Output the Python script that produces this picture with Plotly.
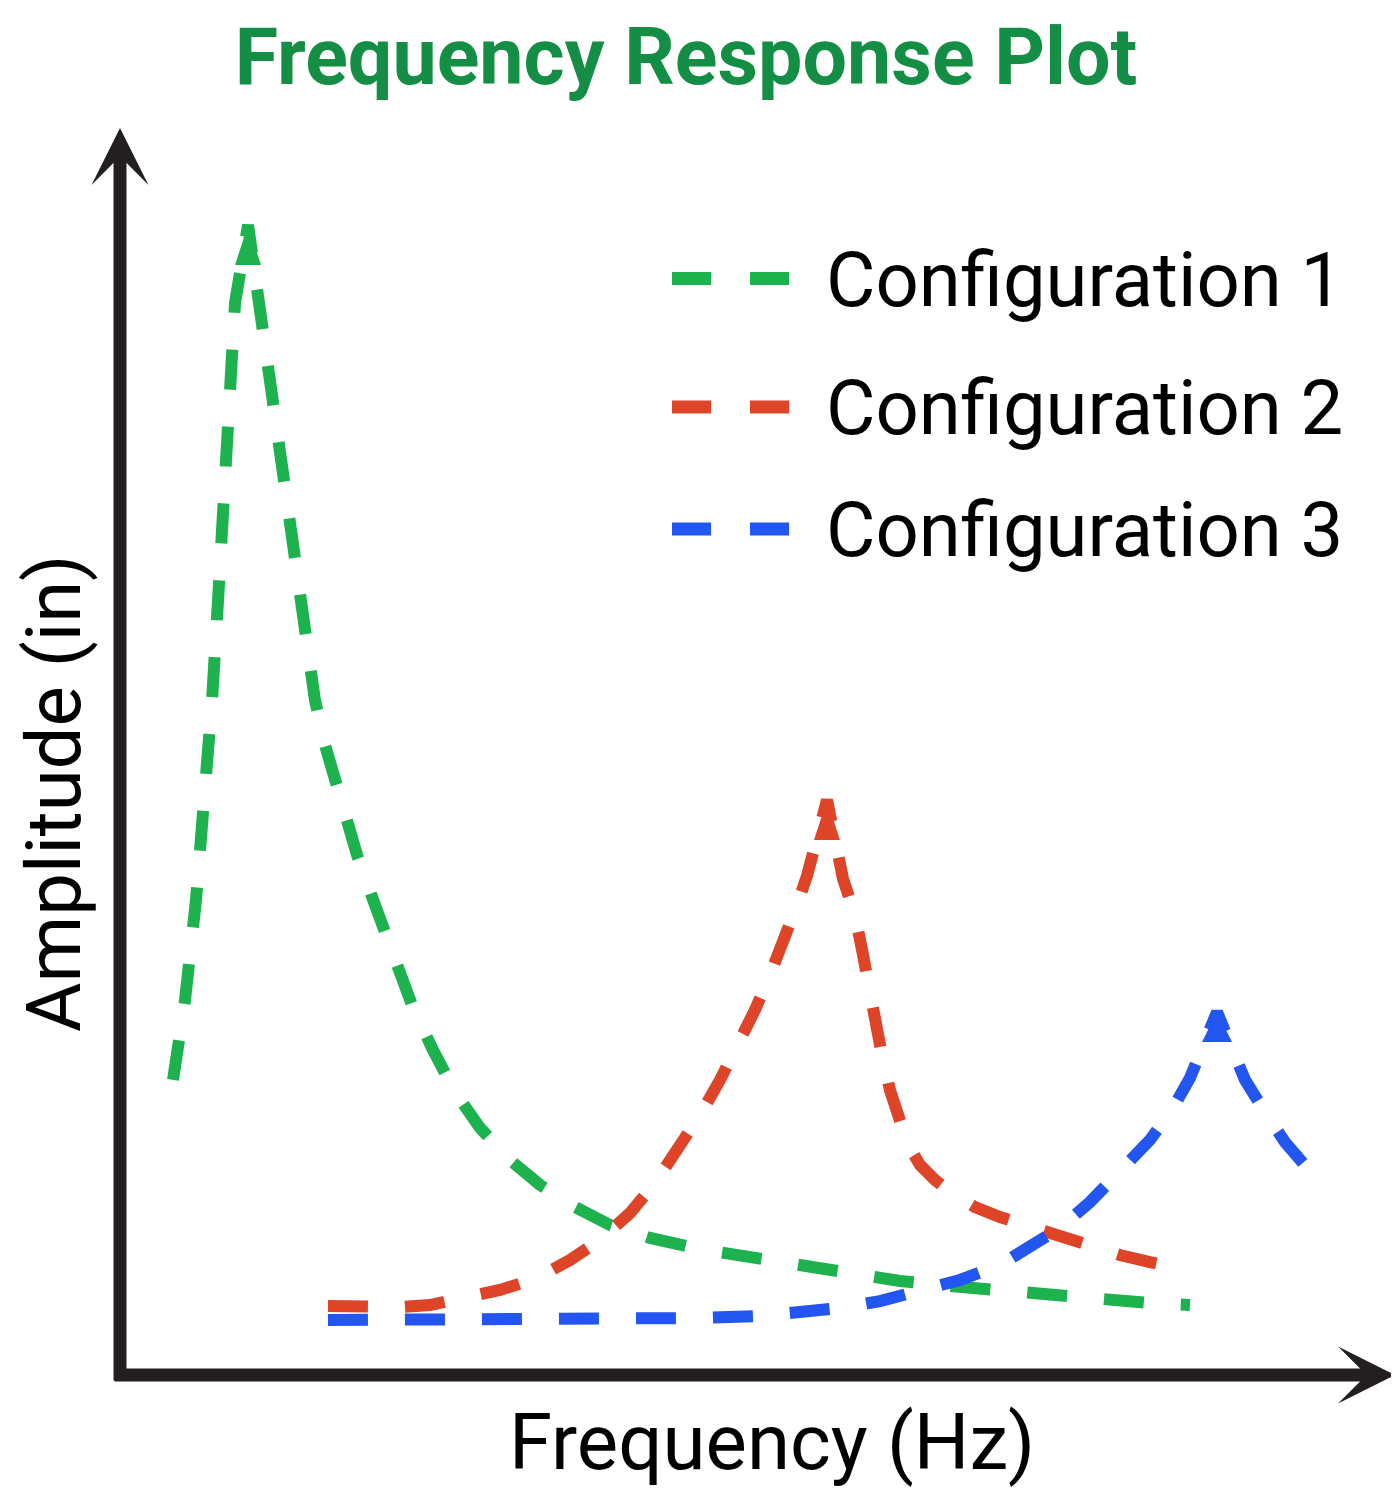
import plotly.graph_objects as go

# ---------------- data (arbitrary frequency / amplitude units) ----------------
series_names = ["Configuration 1", "Configuration 2", "Configuration 3"]

freq_1 = [4.16, 5.10, 5.96, 6.67, 7.22, 7.69, 8.08, 8.47, 8.71, 9.02, 10.04,
          10.90, 11.45, 11.84, 12.39, 12.94, 13.49, 14.12, 14.67, 15.29, 16.08,
          17.25, 18.59, 20.00, 21.41, 22.90, 24.47, 26.27, 28.24, 30.59, 32.94,
          35.69, 38.43, 41.57, 45.49, 49.41, 53.33, 57.25, 61.18, 65.10, 69.02,
          72.94, 76.86, 80.78, 83.92]
amp_1 = [23.66, 30.07, 38.09, 46.11, 54.13, 62.15, 70.17, 78.19, 83.00, 85.97, 92.22,
         85.89, 82.84, 79.79, 75.78, 71.77, 67.76, 62.15, 58.14, 54.13, 50.52,
         46.11, 41.70, 37.69, 33.68, 29.67, 26.22, 22.69, 19.81, 17.24, 15.24,
         13.47, 12.03, 10.99, 10.10, 9.46, 8.74, 8.10, 7.54, 7.14, 6.74,
         6.34, 6.01, 5.77, 5.61]

freq_2 = [16.31, 18.82, 21.96, 24.31, 27.45, 29.80, 32.55, 35.29, 37.65, 40.00,
          41.96, 43.92, 45.49, 47.06, 48.24, 49.80, 50.98, 52.16, 53.10, 53.88,
          55.45, 56.71, 57.65, 58.20, 58.67, 59.22, 59.76, 60.39, 61.02, 61.80,
          62.75, 63.92, 65.49, 67.06, 69.02, 71.37, 73.73, 76.08, 78.43, 80.78, 83.92]
amp_2 = [5.53, 5.45, 5.45, 5.61, 6.17, 6.82, 7.70, 9.22, 10.83, 12.99,
         15.40, 18.20, 20.85, 23.66, 25.90, 29.27, 32.08, 34.88, 37.69, 40.02,
         46.11, 39.78, 36.89, 34.08, 31.28, 28.47, 25.66, 22.85, 20.61, 18.44,
         16.84, 15.64, 14.43, 13.47, 12.67, 11.87, 11.07, 10.34, 9.62, 9.06, 8.42]

freq_3 = [16.31, 21.96, 29.80, 37.65, 45.49, 50.20, 53.33, 56.47, 59.61, 62.75,
          65.88, 69.02, 71.37, 73.73, 76.08, 78.43, 80.78, 82.59, 83.92, 86.04,
          88.24, 89.80, 91.37, 92.78]
amp_3 = [4.41, 4.41, 4.41, 4.41, 4.57, 4.73, 4.97, 5.37, 5.93, 6.66,
         7.62, 8.82, 10.18, 11.79, 13.87, 16.28, 18.85, 21.41, 23.82, 29.11,
         23.66, 21.09, 18.68, 17.00]

colors = ["#1DB24D", "#DD4428", "#2356F0"]
peak_symbols = ["arrow", "arrow", "arrow-up"]
peak_sizes = [42, 42, 30]

title_text = "Frequency Response Plot"
x_label = "Frequency (Hz)"
y_label = "Amplitude (in)"

FONT = "Roboto, 'Open Sans', 'DejaVu Sans', sans-serif"
AXIS_COLOR = "#231F20"

# page has an 8px body margin: lay the figure out in page coords shifted by OFF
OFF = 8
W, H = 1399 - OFF, 1489 - OFF
L = 120 - OFF
T = 128 - OFF
R = W - (1395 - OFF)
B = H - (1375 - OFF)
pw, ph = W - L - R, H - T - B


def px2paper_x(px):
    return (px - OFF - L) / pw


def px2paper_y(py):
    return (H - B - (py - OFF)) / ph


fig = go.Figure()
all_series = [(freq_1, amp_1), (freq_2, amp_2), (freq_3, amp_3)]
for (xs, ys), name, col in zip(all_series, series_names, colors):
    fig.add_trace(go.Scatter(
        x=xs, y=ys, mode="lines", name=name,
        line=dict(color=col, width=12, dash="40px,37px"),
        showlegend=False, hoverinfo="skip"))

# peak tips
for (xs, ys), col, sym, sz in zip(all_series, colors, peak_symbols, peak_sizes):
    i = ys.index(max(ys))
    fig.add_trace(go.Scatter(
        x=[xs[i]], y=[ys[i]], mode="markers",
        marker=dict(symbol=sym, size=sz, color=col, line=dict(width=0)),
        showlegend=False, hoverinfo="skip"))

annotations = []
# axes with arrowheads
annotations.append(dict(xref="paper", yref="paper", x=1.0, y=0.0,
                        axref="pixel", ayref="pixel", ax=-(1395 - 113), ay=0,
                        text="", showarrow=True, arrowhead=3, arrowwidth=13,
                        arrowsize=0.73, arrowcolor=AXIS_COLOR, standoff=0, startstandoff=0))
annotations.append(dict(xref="paper", yref="paper", x=0.0, y=1.0,
                        axref="pixel", ayref="pixel", ax=0, ay=(1382 - 128),
                        text="", showarrow=True, arrowhead=3, arrowwidth=13,
                        arrowsize=0.73, arrowcolor=AXIS_COLOR, standoff=0, startstandoff=0))

# axis labels
annotations.append(dict(xref="paper", yref="paper", x=px2paper_x(772), y=px2paper_y(1442),
                        text=x_label, showarrow=False, xanchor="center", yanchor="middle",
                        borderpad=0,
                        font=dict(family=FONT, size=78, color="#000000")))
annotations.append(dict(xref="paper", yref="paper", x=px2paper_x(54), y=px2paper_y(793),
                        text=y_label, showarrow=False, xanchor="center", yanchor="middle",
                        textangle=-90, borderpad=0,
                        font=dict(family=FONT, size=76, color="#000000")))

# custom legend
legend_rows = [278.5, 407, 529]
shapes = []
for name, col, yy in zip(series_names, colors, legend_rows):
    shapes.append(dict(type="line", xref="paper", yref="paper",
                       x0=px2paper_x(672), x1=px2paper_x(789),
                       y0=px2paper_y(yy), y1=px2paper_y(yy),
                       line=dict(color=col, width=13, dash="39px,39px")))
    annotations.append(dict(xref="paper", yref="paper", x=px2paper_x(824), y=px2paper_y(yy + 1),
                            text=name, showarrow=False, xanchor="left", yanchor="middle",
                            font=dict(family=FONT, size=76, color="#000000")))

fig.update_layout(
    width=W, height=H,
    margin=dict(l=L, r=R, t=T, b=B),
    paper_bgcolor="white", plot_bgcolor="white",
    title=dict(text=title_text, x=(686 - OFF) / W, xanchor="center",
               y=1 - (56 - OFF) / H, yanchor="middle", yref="container",
               font=dict(family=FONT, size=79, color="#148E45", weight=700)),
    xaxis=dict(range=[0, 100], visible=False, fixedrange=True),
    yaxis=dict(range=[0, 100], visible=False, fixedrange=True),
    showlegend=False,
    annotations=annotations,
    shapes=shapes,
    hovermode=False,
)

fig.write_html("out.html")
